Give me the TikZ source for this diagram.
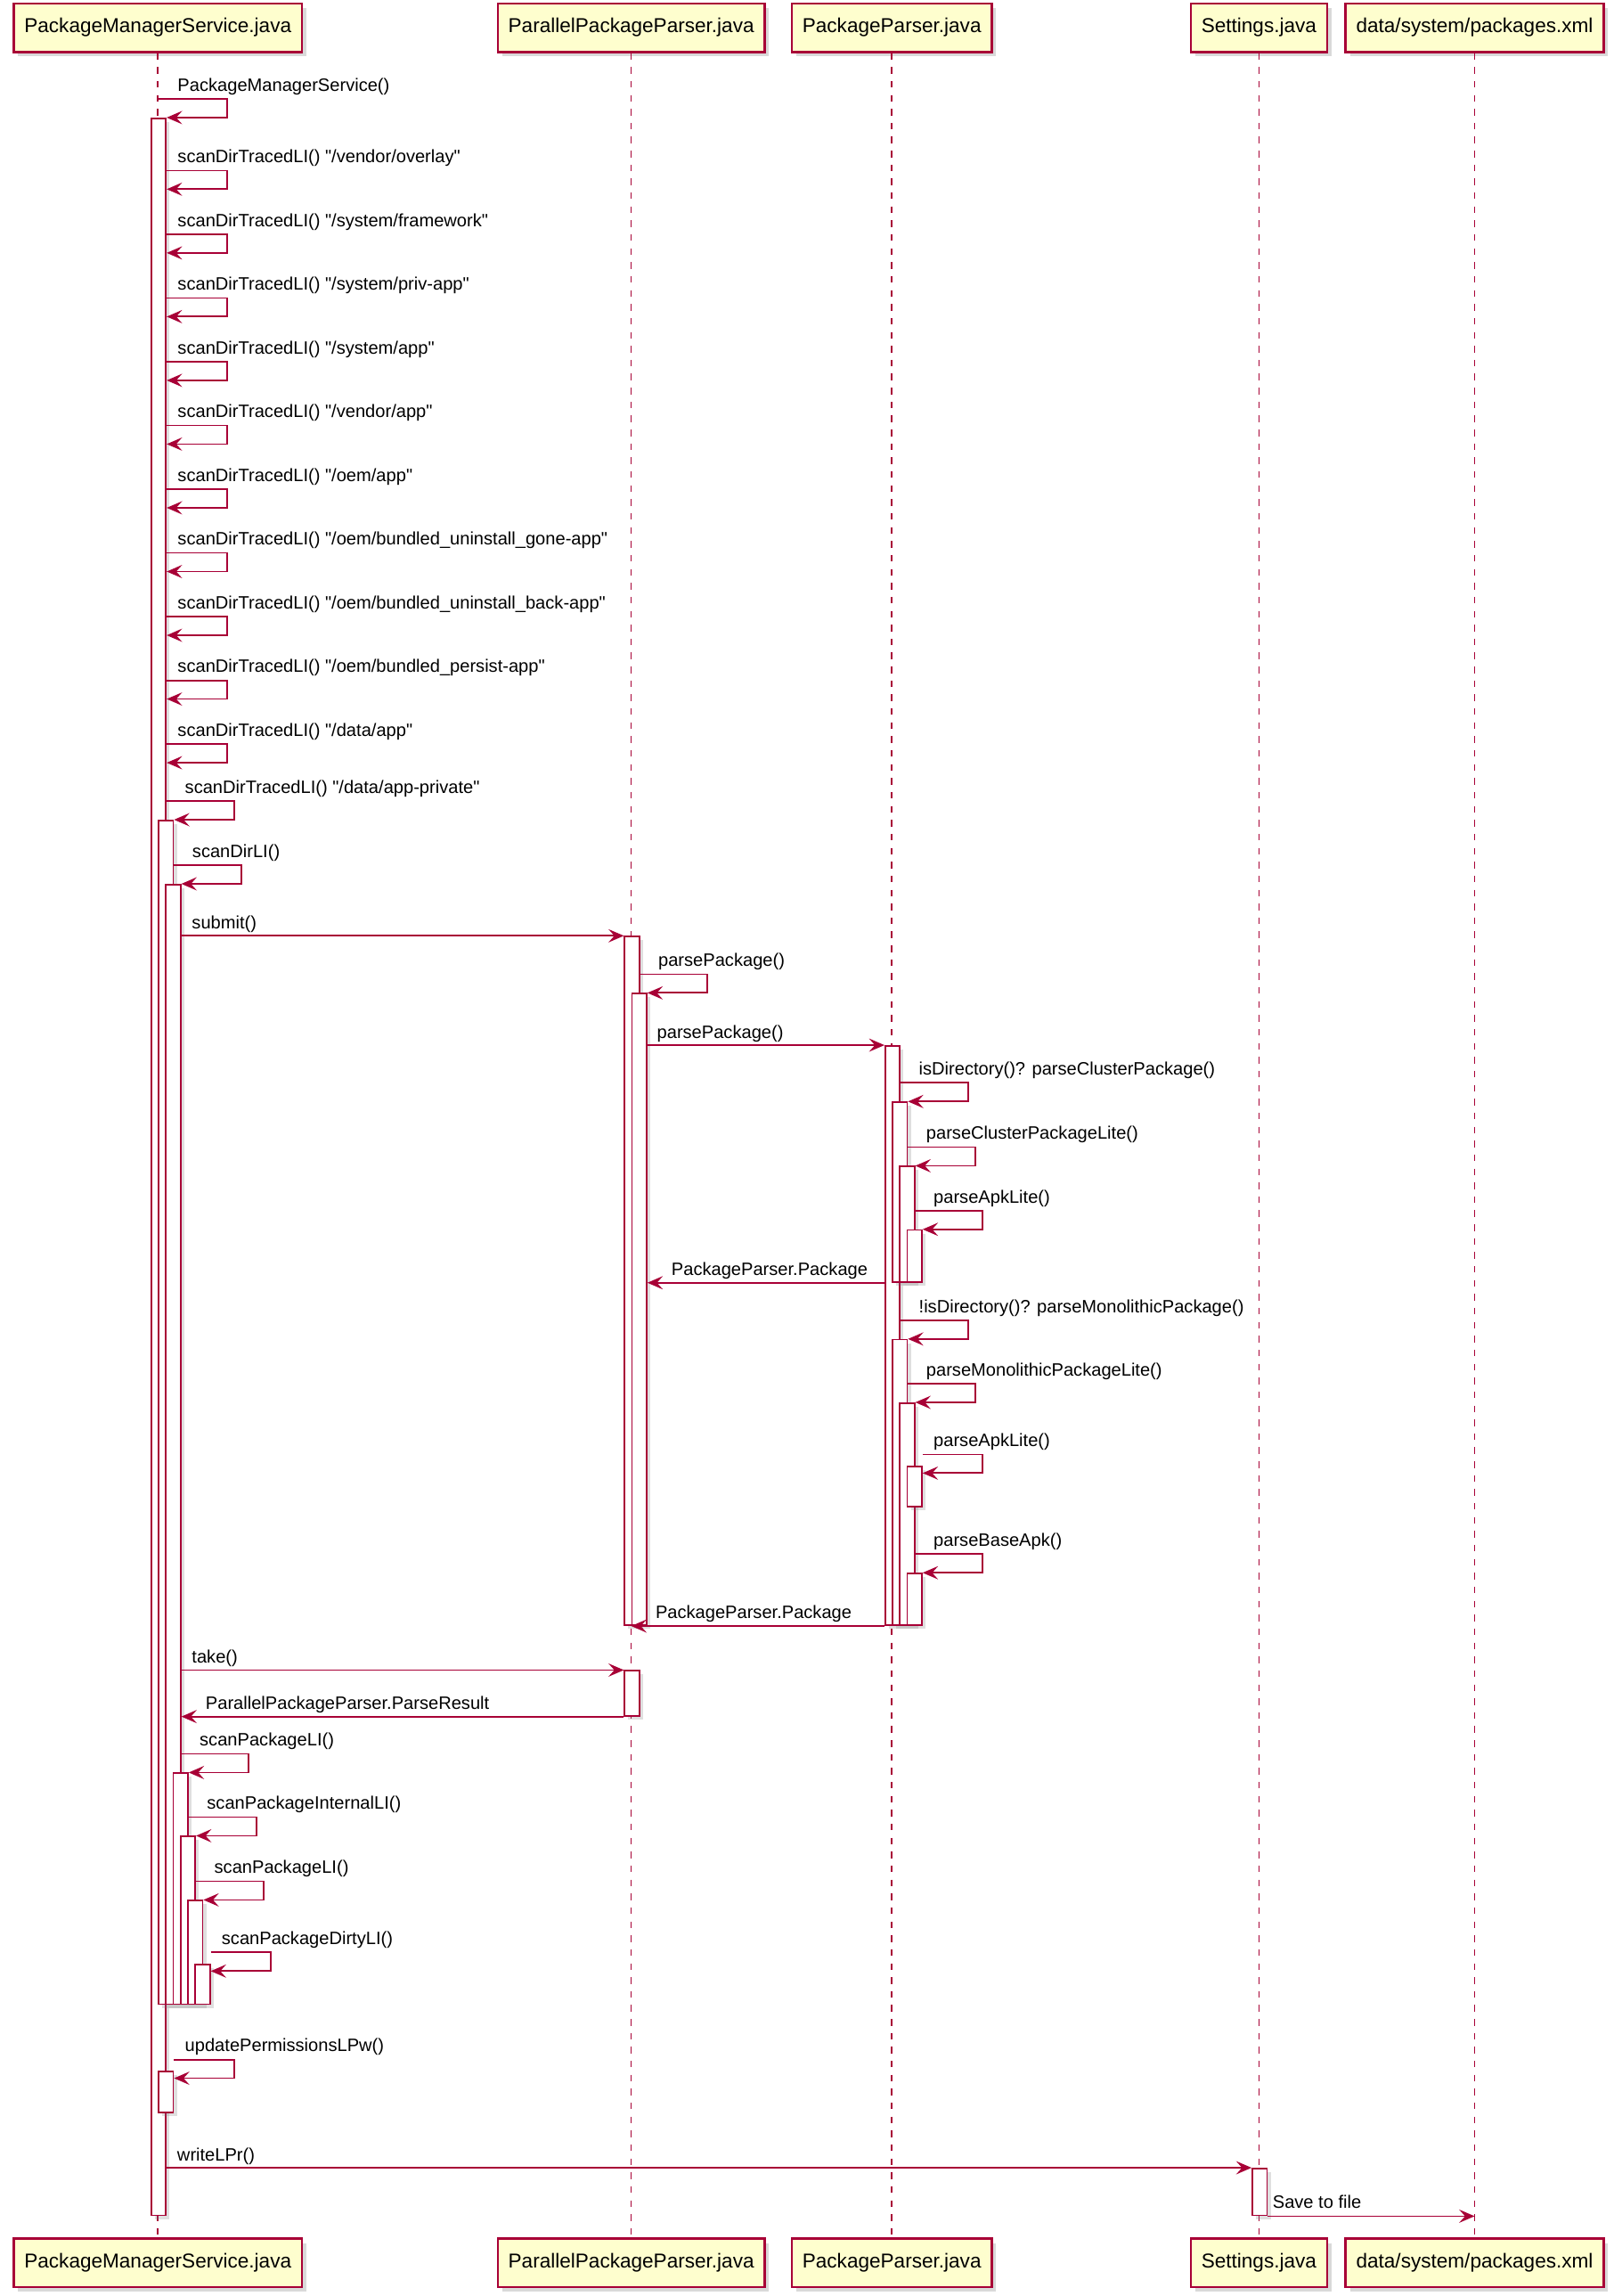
\documentclass[tikz,border=0pt]{standalone}
\usepackage{fontspec}
\newfontfamily\umlfont{Liberation Sans}
\usetikzlibrary{arrows.meta,calc,shadows}
\definecolor{umlred}{HTML}{A80036}
\definecolor{umlfill}{HTML}{FEFECE}

% self call: name, from, to (top corner of new bar), text
\newcommand{\selfcall}[4]{%
  \coordinate (#1) at ($(#3)+(0,-12.7)$);
  \draw[msg] (#2 |- #1) -| ($(#3)+(41,0)$) -- (#3);
  \node[lbl] (#1l) at ($(#3)+(7.3,-18)$) {#4};}

\begin{document}
\begin{tikzpicture}[x=1pt,y=-1pt,
  part/.style={draw=umlred,fill=umlfill,line width=1.5pt,minimum height=33pt,inner xsep=7.2pt,
    font=\umlfont\fontsize{13.7}{16}\selectfont,drop shadow={shadow xshift=3pt,shadow yshift=-3pt,opacity=.3}},
  life/.style={draw=umlred,line width=1pt,dash pattern=on 4.5pt off 5pt},
  bar/.style={draw=umlred,fill=white,line width=1pt,minimum width=10pt,inner sep=0pt,anchor=north west,
    drop shadow={shadow xshift=2.5pt,shadow yshift=-2.5pt,opacity=.25}},
  msg/.style={draw=umlred,line width=1.1pt,-{Stealth[length=10.5pt,width=9pt,inset=4pt]}},
  lbl/.style={anchor=base west,inner sep=0pt,font=\umlfont\fontsize{12.2}{14}\selectfont}]
\useasboundingbox (0,0) rectangle (1100,1564.4);

% participants
\node[part] (pms) at (107.6,18.9) {PackageManagerService.java};
\node[part] (ppp) at (430.2,18.9) {ParallelPackageParser.java};
\node[part] (pp) at (607.8,18.9) {PackageParser.java};
\node[part] (set) at (858,18.9) {Settings.java};
\node[part] (xml) at (1005,18.9) {data/system/packages.xml};
\node[part] (pmsb) at (107.6,1541.8) {PackageManagerService.java};
\node[part] (pppb) at (430.2,1541.8) {ParallelPackageParser.java};
\node[part] (ppb) at (607.8,1541.8) {PackageParser.java};
\node[part] (setb) at (858,1541.8) {Settings.java};
\node[part] (xmlb) at (1005,1541.8) {data/system/packages.xml};

\draw[life] (pms.south) -- (pmsb.north);
\draw[life] (ppp.south) -- (pppb.north);
\draw[life] (pp.south) -- (ppb.north);
\draw[life] (set.south) -- (setb.north);
\draw[life] (xml.south) -- (xmlb.north);

% activations
\node[bar,minimum height=1428.9pt] (pA) at (102.6,80.1) {};
\node[bar,minimum height=806.5pt] (pB) at (107.6,558.5) {};
\node[bar,minimum height=762.8pt] (pC) at (112.6,602.2) {};
\node[bar,minimum height=157.3pt] (pD) at (117.6,1207.7) {};
\node[bar,minimum height=114.2pt] (pE) at (122.6,1250.8) {};
\node[bar,minimum height=70.5pt] (pF) at (127.6,1294.5) {};
\node[bar,minimum height=27pt] (pG) at (132.6,1338) {};
\node[bar,minimum height=27.9pt] (pH) at (107.6,1410.8) {};
\node[bar,minimum height=469.3pt] (qA) at (425.2,637.6) {};
\node[bar,minimum height=430.4pt] (qB) at (430.2,676.5) {};
\node[bar,minimum height=30.7pt] (qC) at (425.2,1137.9) {};
\node[bar,minimum height=394.8pt] (rA) at (602.8,712.1) {};
\node[bar,minimum height=122.5pt] (rB) at (607.8,750.5) {};
\node[bar,minimum height=78.7pt] (rC) at (612.8,794.3) {};
\node[bar,minimum height=35.4pt] (rD) at (617.8,837.6) {};
\node[bar,minimum height=194.6pt] (rE) at (607.8,912.3) {};
\node[bar,minimum height=151.4pt] (rF) at (612.8,955.5) {};
\node[bar,minimum height=27.4pt] (rG) at (617.8,998.8) {};
\node[bar,minimum height=35.3pt] (rH) at (617.8,1071.6) {};
\node[bar,minimum height=32pt] (sA) at (853,1477) {};

% messages
\selfcall{m1}{pms}{pA.north east}{PackageManagerService()}
\foreach \p [count=\i from 0] in {/vendor/overlay,/system/framework,/system/priv-app,/system/app,/vendor/app,/oem/app,/oem/bundled\_uninstall\_gone-app,/oem/bundled\_uninstall\_back-app,/oem/bundled\_persist-app,/data/app}{
  \coordinate (d\i) at ($(pA.north east)+(0,{48.8+43.42*\i})$);
  \selfcall{s\i}{d\i}{d\i}{scanDirTracedLI() "\p"}
}
\selfcall{m12}{pA.east}{pB.north east}{scanDirTracedLI() "/data/app-private"}
\selfcall{m13}{pB.east}{pC.north east}{scanDirLI()}
\coordinate (m14) at (pC.east |- qA.north);
\draw[msg] (m14) -- (qA.north west);
\node[lbl] (m14l) at ($(m14)+(7,-4.8)$) {submit()};
\selfcall{m15}{qA.east}{qB.north east}{parsePackage()}
\coordinate (m16) at (qB.east |- rA.north);
\draw[msg] (m16) -- (rA.north west);
\node[lbl] (m16l) at ($(m16)+(6.4,-4.8)$) {parsePackage()};
\selfcall{m17}{rA.east}{rB.north east}{isDirectory()? parseClusterPackage()}
\selfcall{m18}{rB.east}{rC.north east}{parseClusterPackageLite()}
\selfcall{m19}{rC.east}{rD.north east}{parseApkLite()}
\coordinate (m20) at (qB.east |- rB.south);
\draw[msg] (rA.west |- m20) -- (m20);
\node[lbl] (m20l) at ($(m20)+(16.3,-5)$) {PackageParser.Package};
\selfcall{m21}{rA.east}{rE.north east}{!isDirectory()? parseMonolithicPackage()}
\selfcall{m22}{rE.east}{rF.north east}{parseMonolithicPackageLite()}
\coordinate (g23) at ($(rG.north east)+(0,4.9)$);
\selfcall{m23}{g23}{g23}{parseApkLite()}
\selfcall{m24}{rF.east}{rH.north east}{parseBaseApk()}
\draw[msg] (rA.south west) -- (qB.south west);
\node[lbl] (m25l) at ($(qB.south west)+(16.4,-5)$) {PackageParser.Package};
\coordinate (m26) at (pC.east |- qC.north);
\draw[msg] (m26) -- (qC.north west);
\node[lbl] (m26l) at ($(m26)+(7,-4.8)$) {take()};
\coordinate (m27) at (pC.east |- qC.south);
\draw[msg] (qC.south west) -- (m27);
\node[lbl] (m27l) at ($(m27)+(16.4,-5)$) {ParallelPackageParser.ParseResult};
\selfcall{m28}{pC.east}{pD.north east}{scanPackageLI()}
\selfcall{m29}{pD.east}{pE.north east}{scanPackageInternalLI()}
\selfcall{m30}{pE.east}{pF.north east}{scanPackageLI()}
\coordinate (g31) at ($(pG.north east)+(0,5)$);
\selfcall{m31}{g31}{g31}{scanPackageDirtyLI()}
\coordinate (g32) at ($(pH.north east)+(0,5.2)$);
\selfcall{m32}{g32}{g32}{updatePermissionsLPw()}
\coordinate (m33) at (pA.east |- sA.north);
\draw[msg] (m33) -- (sA.north west);
\node[lbl] (m33l) at ($(m33)+(7,-4.8)$) {writeLPr()};
\coordinate (m34) at (xml |- sA.south);
\draw[msg] (sA.south east) -- (m34);
\node[lbl] (m34l) at ($(sA.south east)+(3.2,-5.2)$) {Save to file};
\end{tikzpicture}
\end{document}
